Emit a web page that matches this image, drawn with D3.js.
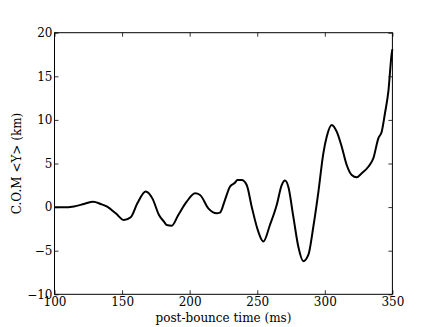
<!DOCTYPE html>
<html><head><meta charset="utf-8">
<script src="https://cdn.jsdelivr.net/npm/d3@7"></script>
<style>body{margin:0;background:#fff}svg text{font-family:"DejaVu Serif",serif;font-size:12px;fill:#000}</style>
</head><body><svg id="c" width="436" height="327"></svg>
<script>
const timeMs = [100,106,114.4,121.8,128.7,134.2,139,145.3,151.4,156.4,161.3,167.5,172.4,177.3,181,183,186.7,191.6,197.8,204,207.7,213.8,220,222.4,226.1,229.8,233.5,235.3,238.5,242.2,245.9,250.8,254.5,259.4,264.4,268.1,270.5,273,276.7,280.4,284.1,287.8,291.5,295.2,298.9,301.4,305.1,308.8,312.5,316.2,319.9,323.6,327.3,332.2,335.9,339.6,342.1,344.5,347,349.5,350];
const comY = [-0.02,-0.02,0.08,0.36,0.62,0.36,0.05,-0.71,-1.48,-1.17,0.43,1.8,1.0,-0.9,-1.67,-2.05,-2.13,-0.9,0.62,1.58,1.39,-0.14,-0.71,-0.64,0.81,2.34,2.8,3.1,3.1,2.53,0.05,-2.82,-3.95,-2.05,0.24,2.53,3.05,2.34,-1.1,-4.54,-6.2,-5.49,-2.25,1.7,6.17,8.07,9.42,8.65,6.93,4.83,3.68,3.42,3.88,4.63,5.6,7.89,8.65,10.76,13.23,17.64,18.1];
const xTicks = [100,150,200,250,300,350];
const yTicks = [-10,-5,0,5,10,15,20];

(function(){
const svg = d3.select("#c");
const L=54.5,R=392.4,T=32.7,B=294.3;
const x = d3.scaleLinear().domain([100,350]).range([L,R]);
const y = d3.scaleLinear().domain([-10,20]).range([B,T]);
const fmt = d => d<0 ? "\u2212"+Math.abs(d) : String(d);

const data = timeMs.map((t,i)=>[t,comY[i]]);
svg.append("path").datum(data)
  .attr("d", d3.line().x(d=>x(d[0])).y(d=>y(d[1])).curve(d3.curveMonotoneX))
  .attr("fill","none").attr("stroke","#000").attr("stroke-width",2).attr("stroke-linejoin","round");

svg.append("g").attr("transform",`translate(0,${B})`)
  .call(d3.axisBottom(x).tickValues(xTicks).tickFormat(fmt).tickSizeInner(-4).tickSizeOuter(0).tickPadding(3));
svg.append("g").attr("transform",`translate(0,${T})`)
  .call(d3.axisTop(x).tickValues(xTicks).tickFormat("").tickSizeInner(-4).tickSizeOuter(0));
svg.append("g").attr("transform",`translate(${L},0)`)
  .call(d3.axisLeft(y).tickValues(yTicks).tickFormat(fmt).tickSizeInner(-4).tickSizeOuter(0).tickPadding(2));
svg.append("g").attr("transform",`translate(${R},0)`)
  .call(d3.axisRight(y).tickValues(yTicks).tickFormat("").tickSizeInner(-4).tickSizeOuter(0));
svg.selectAll(".domain").remove();
svg.selectAll(".tick line").attr("stroke","#000").attr("stroke-width",0.8);
svg.selectAll("g text").attr("font-family",null).attr("font-size",null);
svg.append("rect").attr("x",L).attr("y",T).attr("width",R-L).attr("height",B-T)
  .attr("fill","none").attr("stroke","#000").attr("stroke-width",1);

svg.append("text").attr("x",(L+R)/2).attr("y",322).attr("text-anchor","middle").text("post-bounce time (ms)");
svg.append("text").attr("transform",`translate(21,${(T+B)/2}) rotate(-90)`).attr("text-anchor","middle").text("C.O.M <Y> (km)");
})();
</script></body></html>
